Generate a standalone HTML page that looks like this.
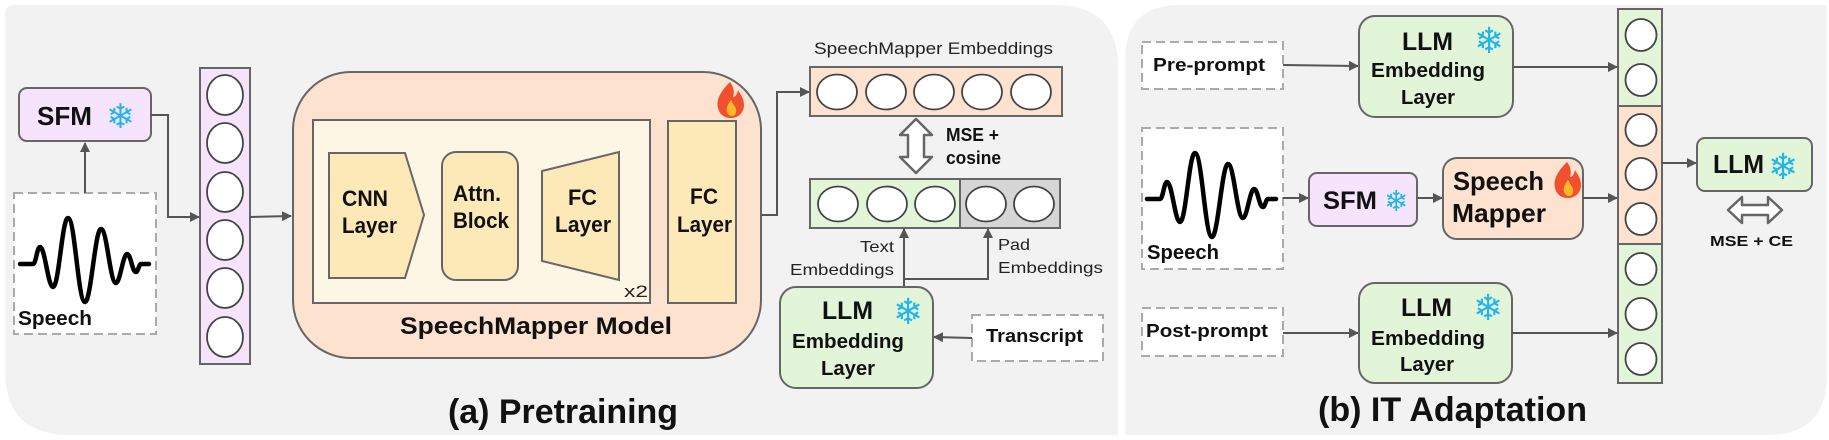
<!DOCTYPE html>
<html><head><meta charset="utf-8"><style>
html,body{margin:0;padding:0;background:#fff;}
svg{display:block;}
text{font-family:"Liberation Sans",sans-serif;font-weight:bold;fill:#111;}
.r{font-weight:normal;fill:#222;}
.sf{fill:#22b5ea;font-family:"DejaVu Sans",sans-serif;font-weight:normal;}
</style></head><body>
<svg width="1829" height="440" viewBox="0 0 1829 440" xmlns="http://www.w3.org/2000/svg">
<defs>
<marker id="ah" markerWidth="10" markerHeight="10" refX="9" refY="5" orient="auto" markerUnits="userSpaceOnUse">
<path d="M0,0 L10,5 L0,10 z" fill="#555"/></marker>
<g id="flame">
<path d="M14,0 C4,10 0,18 2,26 C4,34 10,36 15,36 C22,36 28,31 28,23 C28,16 24,12 22,8 C21,13 19,15 17,15 C19,9 17,4 14,0z" fill="#f0502e"/>
<path d="M15,18 C11,23 10,27 11,30 C12,33 14,34 16,34 C19,34 21,31 20,27 C19,24 17,22 15,18z" fill="#fbb829"/>
</g>
<path id="wave" d="M20,264 L33,264 C36,264 37,247 40,247 C45,247 48,287 53,287 C59,287 62,218 68,218 C75,218 78,302 85,302 C91,302 95,229 101,229 C107,229 110,283 116,283 C120,283 123,254 127,254 C131,254 132,272 136,272 C138,272 139,264 141,264 L149,264" fill="none" stroke="#000" stroke-width="4.5" stroke-linejoin="round" stroke-linecap="round"/>
</defs>

<!-- panels -->
<path d="M5,15 Q5,5 15,5 L1055,5 Q1118,5 1118,68 L1118,435 L70,435 Q5,435 5,370 Z" fill="#f2f2f2"/>
<path d="M1125,60 Q1125,5 1180,5 L1827,5 L1827,375 Q1827,435 1767,435 L1125,435 Z" fill="#f2f2f2"/>

<!-- LEFT PANEL -->
<rect x="19" y="88" width="132" height="53" rx="8" fill="#f5e4fb" stroke="#666" stroke-width="2"/>
<text x="37" y="125" font-size="26" textLength="55" lengthAdjust="spacingAndGlyphs">SFM</text>
<text x="106" y="128" font-size="34" class="sf">❄</text>

<rect x="14" y="193" width="142" height="141" fill="#fff" stroke="#aaa" stroke-width="2" stroke-dasharray="9,5"/>
<use href="#wave"/>
<text x="18" y="325" font-size="20" textLength="74" lengthAdjust="spacingAndGlyphs">Speech</text>
<line x1="85" y1="193" x2="85" y2="143" stroke="#555" stroke-width="2" marker-end="url(#ah)"/>
<polyline points="151,115 168,115 168,217 199,217" fill="none" stroke="#555" stroke-width="2" marker-end="url(#ah)"/>

<rect x="200" y="68" width="50" height="296" fill="#f5e4fb" stroke="#666" stroke-width="2"/>
<g fill="#fff" stroke="#444" stroke-width="1.8">
<ellipse cx="225" cy="95" rx="18" ry="20"/><ellipse cx="225" cy="143" rx="18" ry="20"/>
<ellipse cx="225" cy="192" rx="18" ry="20"/><ellipse cx="225" cy="240" rx="18" ry="20"/>
<ellipse cx="225" cy="288" rx="18" ry="20"/><ellipse cx="225" cy="337" rx="18" ry="20"/>
</g>
<line x1="250" y1="217" x2="291" y2="216" stroke="#555" stroke-width="2" marker-end="url(#ah)"/>

<rect x="293" y="72" width="468" height="286" rx="58" fill="#fde2cf" stroke="#666" stroke-width="2"/>
<use href="#flame" x="716" y="82"/>
<rect x="313" y="120" width="337" height="183" fill="#fef6e4" stroke="#666" stroke-width="2"/>
<path d="M329,153 L405,153 L424,215 L405,278 L329,278 Z" fill="#fde9b8" stroke="#666" stroke-width="2"/>
<text x="342" y="206" font-size="22" textLength="46" lengthAdjust="spacingAndGlyphs">CNN</text>
<text x="342" y="233" font-size="22" textLength="55" lengthAdjust="spacingAndGlyphs">Layer</text>
<rect x="442" y="152" width="76" height="128" rx="14" fill="#fde9b8" stroke="#666" stroke-width="2"/>
<text x="453" y="201" font-size="22" textLength="48" lengthAdjust="spacingAndGlyphs">Attn.</text>
<text x="453" y="228" font-size="22" textLength="56" lengthAdjust="spacingAndGlyphs">Block</text>
<path d="M542,171 L619,152 L619,280 L542,261 Z" fill="#fde9b8" stroke="#666" stroke-width="2"/>
<text x="568" y="205" font-size="22" textLength="29" lengthAdjust="spacingAndGlyphs">FC</text>
<text x="555" y="232" font-size="22" textLength="56" lengthAdjust="spacingAndGlyphs">Layer</text>
<text x="624" y="297" font-size="17" class="r" textLength="24" lengthAdjust="spacingAndGlyphs">x2</text>
<rect x="668" y="121" width="68" height="182" fill="#fde9b8" stroke="#666" stroke-width="2"/>
<text x="690" y="204" font-size="22" textLength="28" lengthAdjust="spacingAndGlyphs">FC</text>
<text x="677" y="232" font-size="22" textLength="55" lengthAdjust="spacingAndGlyphs">Layer</text>
<text x="400" y="334" font-size="24" textLength="272" lengthAdjust="spacingAndGlyphs">SpeechMapper Model</text>
<text x="448" y="423" font-size="34" textLength="230" lengthAdjust="spacingAndGlyphs">(a) Pretraining</text>

<polyline points="761,215 777,215 777,92 809,92" fill="none" stroke="#555" stroke-width="2" marker-end="url(#ah)"/>
<text x="814" y="54" font-size="17" class="r" textLength="239" lengthAdjust="spacingAndGlyphs">SpeechMapper Embeddings</text>
<rect x="810" y="67" width="252" height="49" fill="#fde2cf" stroke="#666" stroke-width="2"/>
<g fill="#fff" stroke="#444" stroke-width="1.8">
<ellipse cx="837" cy="92" rx="20" ry="17.5"/><ellipse cx="886" cy="92" rx="20" ry="17.5"/>
<ellipse cx="934" cy="92" rx="20" ry="17.5"/><ellipse cx="982" cy="92" rx="20" ry="17.5"/>
<ellipse cx="1031" cy="92" rx="20" ry="17.5"/>
</g>
<path d="M916,119 L932,135 L924,135 L924,157 L932,157 L916,173 L900,157 L908,157 L908,135 L900,135 Z" fill="#fff" stroke="#666" stroke-width="2.5" stroke-linejoin="round"/>
<text x="946" y="141" font-size="18" textLength="53" lengthAdjust="spacingAndGlyphs">MSE +</text>
<text x="946" y="164" font-size="18" textLength="55" lengthAdjust="spacingAndGlyphs">cosine</text>

<rect x="810" y="179" width="150" height="49" fill="#e2f5d9" stroke="#666" stroke-width="2"/>
<rect x="960" y="179" width="100" height="49" fill="#d6d6d6" stroke="#666" stroke-width="2"/>
<g fill="#fff" stroke="#444" stroke-width="1.8">
<ellipse cx="838" cy="204" rx="20" ry="17.5"/><ellipse cx="887" cy="204" rx="20" ry="17.5"/>
<ellipse cx="935" cy="204" rx="20" ry="17.5"/><ellipse cx="986" cy="204" rx="20" ry="17.5"/>
<ellipse cx="1034" cy="204" rx="20" ry="17.5"/>
</g>
<line x1="904" y1="287" x2="904" y2="229" stroke="#555" stroke-width="2" marker-end="url(#ah)"/>
<polyline points="904,279 988,279 988,229" fill="none" stroke="#555" stroke-width="2" marker-end="url(#ah)"/>
<text x="860" y="252" font-size="16" class="r" textLength="34" lengthAdjust="spacingAndGlyphs">Text</text>
<text x="790" y="275" font-size="16" class="r" textLength="104" lengthAdjust="spacingAndGlyphs">Embeddings</text>
<text x="998" y="250" font-size="16" class="r" textLength="32" lengthAdjust="spacingAndGlyphs">Pad</text>
<text x="998" y="273" font-size="16" class="r" textLength="105" lengthAdjust="spacingAndGlyphs">Embeddings</text>

<rect x="780" y="287" width="153" height="101" rx="16" fill="#e2f5d9" stroke="#666" stroke-width="2"/>
<text x="822" y="319" font-size="25" textLength="51" lengthAdjust="spacingAndGlyphs">LLM</text>
<text x="792" y="348" font-size="20" textLength="112" lengthAdjust="spacingAndGlyphs">Embedding</text>
<text x="821" y="375" font-size="20" textLength="54" lengthAdjust="spacingAndGlyphs">Layer</text>
<text x="893" y="324" font-size="36" class="sf">❄</text>
<rect x="972" y="315" width="131" height="46" fill="#fff" stroke="#aaa" stroke-width="2" stroke-dasharray="9,5"/>
<text x="986" y="342" font-size="18" textLength="97" lengthAdjust="spacingAndGlyphs">Transcript</text>
<line x1="972" y1="338" x2="934" y2="337" stroke="#555" stroke-width="2" marker-end="url(#ah)"/>

<!-- RIGHT PANEL -->
<rect x="1142" y="42" width="141" height="47" fill="#fff" stroke="#aaa" stroke-width="2" stroke-dasharray="9,5"/>
<text x="1153" y="71" font-size="18" textLength="112" lengthAdjust="spacingAndGlyphs">Pre-prompt</text>
<line x1="1283" y1="65" x2="1358" y2="66" stroke="#555" stroke-width="2" marker-end="url(#ah)"/>
<rect x="1359" y="16" width="154" height="101" rx="16" fill="#e2f5d9" stroke="#666" stroke-width="2"/>
<text x="1402" y="50" font-size="25" textLength="51" lengthAdjust="spacingAndGlyphs">LLM</text>
<text x="1371" y="77" font-size="20" textLength="114" lengthAdjust="spacingAndGlyphs">Embedding</text>
<text x="1401" y="104" font-size="20" textLength="54" lengthAdjust="spacingAndGlyphs">Layer</text>
<text x="1474" y="53" font-size="36" class="sf">❄</text>
<line x1="1513" y1="67" x2="1617" y2="67" stroke="#555" stroke-width="2" marker-end="url(#ah)"/>

<rect x="1142" y="128" width="141" height="141" fill="#fff" stroke="#aaa" stroke-width="2" stroke-dasharray="9,5"/>
<use href="#wave" transform="translate(1127,-65)"/>
<text x="1147" y="259" font-size="20" textLength="72" lengthAdjust="spacingAndGlyphs">Speech</text>
<line x1="1283" y1="198" x2="1308" y2="198" stroke="#555" stroke-width="2" marker-end="url(#ah)"/>
<rect x="1309" y="173" width="108" height="53" rx="8" fill="#f5e4fb" stroke="#666" stroke-width="2"/>
<text x="1323" y="209" font-size="25" textLength="54" lengthAdjust="spacingAndGlyphs">SFM</text>
<text x="1384" y="211" font-size="29" class="sf">❄</text>
<line x1="1417" y1="198" x2="1442" y2="198" stroke="#555" stroke-width="2" marker-end="url(#ah)"/>
<rect x="1443" y="158" width="140" height="81" rx="14" fill="#fde2cf" stroke="#666" stroke-width="2"/>
<text x="1453" y="190" font-size="26" textLength="91" lengthAdjust="spacingAndGlyphs">Speech</text>
<text x="1452" y="222" font-size="26" textLength="94" lengthAdjust="spacingAndGlyphs">Mapper</text>
<use href="#flame" x="1553" y="162"/>
<line x1="1583" y1="198" x2="1617" y2="198" stroke="#555" stroke-width="2" marker-end="url(#ah)"/>

<rect x="1618" y="9" width="44" height="97" fill="#e2f5d9" stroke="#666" stroke-width="2"/>
<rect x="1618" y="106" width="44" height="138" fill="#fde2cf" stroke="#666" stroke-width="2"/>
<rect x="1618" y="244" width="44" height="139" fill="#e2f5d9" stroke="#666" stroke-width="2"/>
<g fill="#fff" stroke="#444" stroke-width="1.8">
<ellipse cx="1641" cy="35" rx="15.5" ry="16"/><ellipse cx="1641" cy="80" rx="15.5" ry="16"/>
<ellipse cx="1641" cy="130" rx="15.5" ry="16"/><ellipse cx="1641" cy="174" rx="15.5" ry="16"/>
<ellipse cx="1641" cy="219" rx="15.5" ry="16"/><ellipse cx="1641" cy="269" rx="15.5" ry="16"/>
<ellipse cx="1641" cy="314" rx="15.5" ry="16"/><ellipse cx="1641" cy="359" rx="15.5" ry="16"/>
</g>
<line x1="1662" y1="163" x2="1696" y2="163" stroke="#555" stroke-width="2" marker-end="url(#ah)"/>
<rect x="1697" y="138" width="115" height="53" rx="8" fill="#e2f5d9" stroke="#666" stroke-width="2"/>
<text x="1713" y="173" font-size="26" textLength="51" lengthAdjust="spacingAndGlyphs">LLM</text>
<text x="1768" y="179" font-size="36" class="sf">❄</text>
<path d="M1728,210 L1742,197 L1742,205 L1768,205 L1768,197 L1782,210 L1768,223 L1768,215 L1742,215 L1742,223 Z" fill="#fff" stroke="#666" stroke-width="2.5" stroke-linejoin="round"/>
<text x="1710" y="246" font-size="15" textLength="83" lengthAdjust="spacingAndGlyphs">MSE + CE</text>

<rect x="1142" y="308" width="141" height="48" fill="#fff" stroke="#aaa" stroke-width="2" stroke-dasharray="9,5"/>
<text x="1146" y="337" font-size="18" textLength="122" lengthAdjust="spacingAndGlyphs">Post-prompt</text>
<line x1="1283" y1="333" x2="1358" y2="333" stroke="#555" stroke-width="2" marker-end="url(#ah)"/>
<rect x="1359" y="283" width="153" height="100" rx="16" fill="#e2f5d9" stroke="#666" stroke-width="2"/>
<text x="1401" y="316" font-size="25" textLength="51" lengthAdjust="spacingAndGlyphs">LLM</text>
<text x="1371" y="345" font-size="20" textLength="114" lengthAdjust="spacingAndGlyphs">Embedding</text>
<text x="1400" y="371" font-size="20" textLength="54" lengthAdjust="spacingAndGlyphs">Layer</text>
<text x="1473" y="320" font-size="36" class="sf">❄</text>
<line x1="1512" y1="333" x2="1617" y2="333" stroke="#555" stroke-width="2" marker-end="url(#ah)"/>

<text x="1318" y="421" font-size="34" textLength="269" lengthAdjust="spacingAndGlyphs">(b) IT Adaptation</text>
</svg>
</body></html>
